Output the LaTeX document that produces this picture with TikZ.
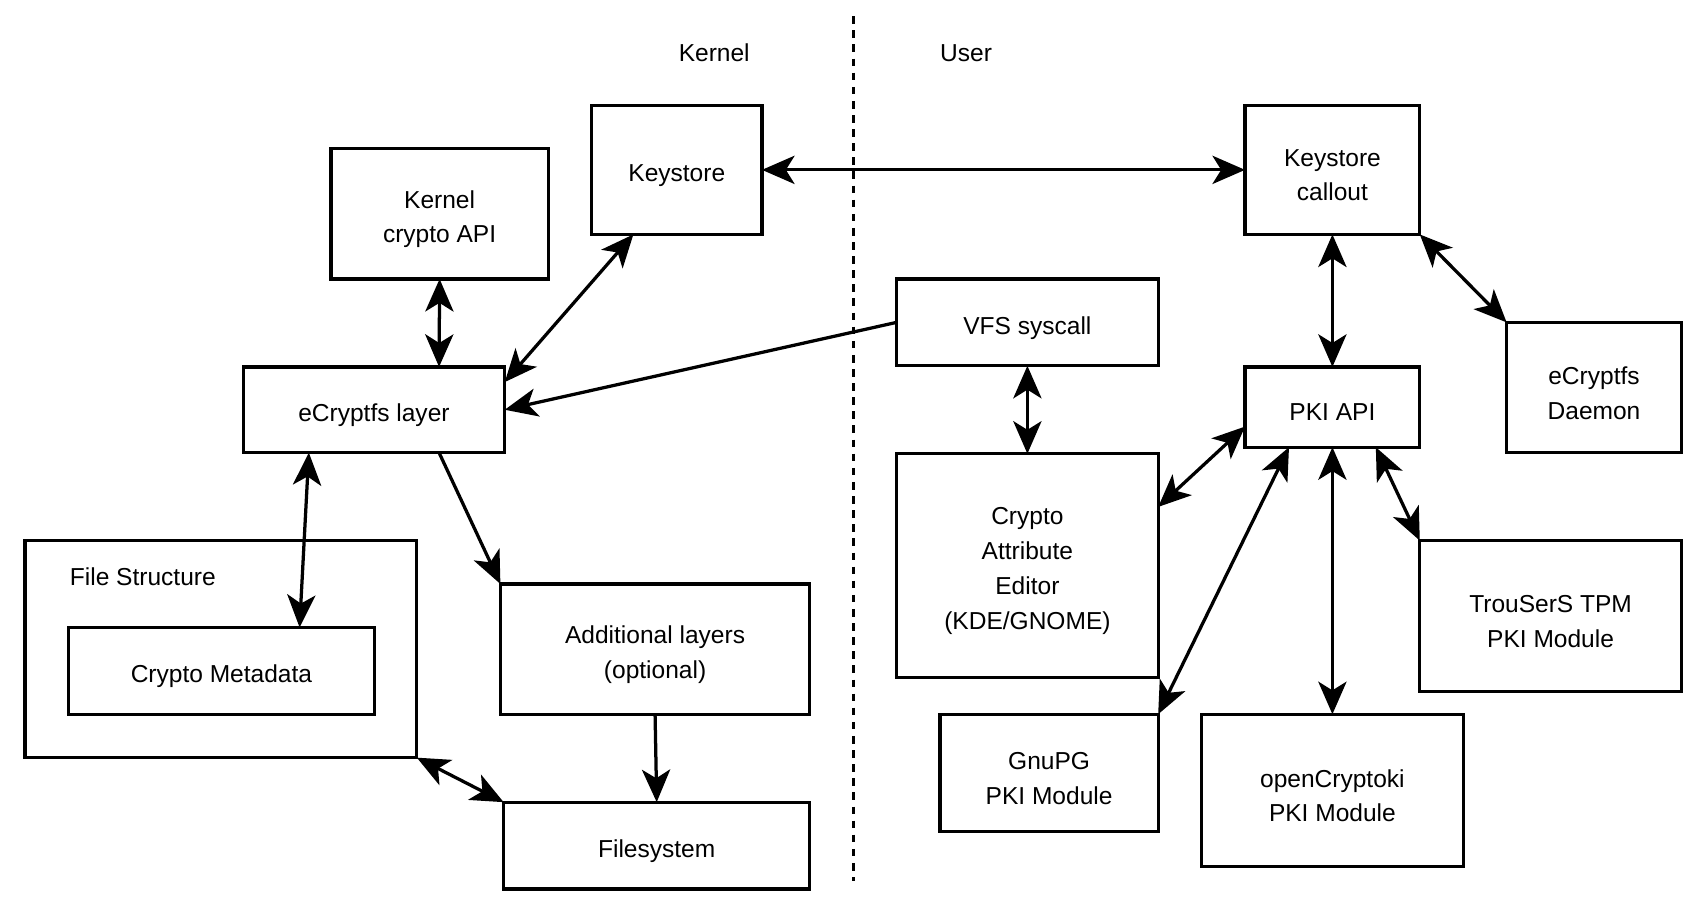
\documentclass[tikz,border=0pt]{standalone}
\usepackage{fontspec}
\setmainfont{Liberation Sans}
\usetikzlibrary{arrows.meta}
\tikzset{
  box/.style={draw=black, line width=1.5pt, inner sep=0pt, outer sep=0pt},
  txt/.style={inner sep=0pt, align=center, yshift=-2.5pt, font=\fontsize{11.3}{16}\selectfont},
  lbl/.style={inner sep=0pt, font=\fontsize{11.3}{16}\selectfont},
  bigtip/.tip={Stealth[length=15pt,width=13pt,inset=4pt]},
  conn/.style={line width=1.5pt, draw=black}
}
\begin{document}
\begin{tikzpicture}[x=0.5pt,y=-0.5pt]
\useasboundingbox (0,0) rectangle (1568,844);
% region labels and separator
\node[lbl] (kern) at (658,49) {Kernel};
\node[lbl] (user) at (890,49) {User};
\coordinate (septop) at (786,15);
\coordinate (sepbot) at (786,812);
\draw[line width=1.5pt, dash pattern=on 3.5pt off 3pt] (septop) -- (sepbot);
% kernel side
\node[box, minimum width=78.5pt, minimum height=59.5pt, label={[txt]center:Keystore}] (ks) at (623.5,156.5) {};
\node[box, minimum width=100pt, minimum height=60pt, label={[txt]center:{Kernel\\crypto API}}] (kapi) at (405,197) {};
\node[box, minimum width=120.5pt, minimum height=39.5pt, label={[txt]center:eCryptfs layer}] (ecl) at (344.5,377.5) {};
\node[box, minimum width=180.5pt, minimum height=100pt] (fs) at (203.5,598) {};
\node[lbl, anchor=west] (fslbl) at (64,531) {File Structure};
\node[box, minimum width=141pt, minimum height=40pt, label={[txt]center:Crypto Metadata}] (cm) at (204,618) {};
\node[box, minimum width=142.5pt, minimum height=60pt, label={[txt]center:{Additional layers\\(optional)}}] (add) at (603.5,598) {};
\node[box, minimum width=141pt, minimum height=40pt, label={[txt]center:Filesystem}] (fsys) at (605,779) {};
% user side
\node[box, minimum width=120.5pt, minimum height=40pt, label={[txt]center:VFS syscall}] (vfs) at (946.5,297) {};
\node[box, minimum width=120.5pt, minimum height=103pt, label={[txt]center:{Crypto\\Attribute\\Editor\\(KDE/GNOME)}}] (cae) at (946.5,521) {};
\node[box, minimum width=80.5pt, minimum height=59.5pt, label={[txt]center:{Keystore\\callout}}] (ksc) at (1227.5,156.5) {};
\node[box, minimum width=80.5pt, minimum height=37pt, label={[txt]center:PKI API}] (pki) at (1227.5,375) {};
\node[box, minimum width=80.5pt, minimum height=60pt, label={[txt]center:{eCryptfs\\Daemon}}] (dae) at (1468.5,357) {};
\node[box, minimum width=120.5pt, minimum height=69.5pt, label={[txt]center:{TrouSerS TPM\\PKI Module}}] (tpm) at (1428.5,567.5) {};
\node[box, minimum width=100.5pt, minimum height=54pt, label={[txt]center:{GnuPG\\PKI Module}}] (gpg) at (966.5,712) {};
\node[box, minimum width=120.5pt, minimum height=70pt, label={[txt]center:{openCryptoki\\PKI Module}}] (ock) at (1227.5,728) {};
% connectors
\draw[conn,bigtip-bigtip] (ks.east) -- (ksc.west);
\draw[conn,bigtip-bigtip] (kapi.south) -- ([xshift=30pt]ecl.north);
\draw[conn,bigtip-bigtip] ([xshift=-20pt]ks.south) -- ([yshift=-7pt]ecl.north east);
\draw[conn,-bigtip] (vfs.west) -- (ecl.east);
\draw[conn,bigtip-bigtip] ([xshift=-30pt]ecl.south) -- ([xshift=36pt]cm.north);
\draw[conn,-bigtip] ([xshift=30pt]ecl.south) -- (add.north west);
\draw[conn,-bigtip] (add.south) -- (fsys.north);
\draw[conn,bigtip-bigtip] (fs.south east) -- (fsys.north west);
\draw[conn,bigtip-bigtip] (vfs.south) -- (cae.north);
\draw[conn,bigtip-bigtip] (ksc.south) -- (pki.north);
\draw[conn,bigtip-bigtip] (ksc.south east) -- (dae.north west);
\draw[conn,bigtip-bigtip] ([yshift=-9pt]pki.west) -- ([yshift=-24.5pt]cae.north east);
\draw[conn,bigtip-bigtip] ([xshift=-20pt]pki.south) -- (gpg.north east);
\draw[conn,bigtip-bigtip] (pki.south) -- (ock.north);
\draw[conn,bigtip-bigtip] ([xshift=20pt]pki.south) -- (tpm.north west);
\end{tikzpicture}
\end{document}
